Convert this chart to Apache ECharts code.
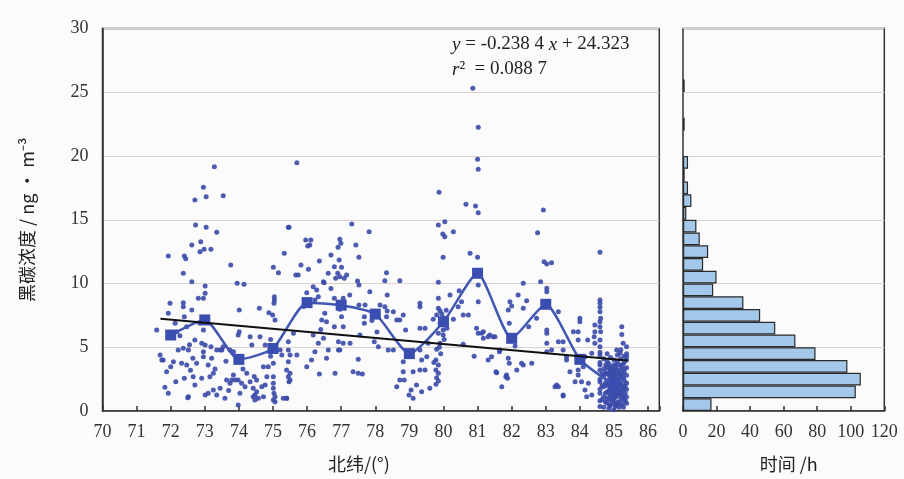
<!DOCTYPE html>
<html><head><meta charset="utf-8">
<script src="https://cdn.jsdelivr.net/npm/echarts@6/dist/echarts.min.js"></script>
<style>html,body{margin:0;padding:0;background:#fbfbfb}#c{width:904px;height:479px}</style>
</head><body><div id="c"></div><script>
// ---- data ----
var bcPts72to75 = [[73.28,19.16],[72.96,17.55],[73.04,16.81],[72.71,16.55],[73.54,16.89],[72.73,14.59],[73.04,14.41],[73.35,14.02],[72.62,13.02],[72.88,13.28],[72.86,12.49],[72.98,12.68],[73.18,12.68],[71.93,12.16],[72.40,12.16],[72.44,11.95],[72.37,10.8],[73.76,11.45],[75.01,11.27],[75.16,10.85],[75.33,12.37],[75.45,14.41],[72.62,10.14],[73.01,9.8],[73.95,10.02],[74.15,9.94],[73.01,9.23],[72.81,8.84],[72.96,8.84],[71.98,8.45],[72.37,8.49],[72.37,8.18],[72.62,7.92],[72.40,7.4],[74.01,7.92],[74.60,8.05],[74.88,7.71],[75.04,8.96],[75.04,8.7],[75.03,8.45],[74.99,7.53],[75.06,7.14],[71.59,6.35],[72.13,6.88],[72.18,6.22],[72.47,6.61],[72.71,5.57],[72.96,6.35],[72.91,5.31],[73.01,5.18],[73.18,5.04],[73.50,4.78],[73.54,5.04],[73.98,5.96],[74.01,6.22],[74.33,5.83],[74.38,5.18],[74.62,5.83],[74.77,5.18],[71.69,4.39],[71.74,4.0],[72.0,3.47],[72.08,3.87],[72.22,4.78],[72.37,4.92],[72.52,4.78],[72.32,3.74],[72.47,3.61],[72.65,4.13],[72.76,3.74],[71.88,3.08],[72.40,2.56],[72.66,2.69],[72.91,2.56],[73.15,2.69],[72.71,2.04],[71.83,1.86],[72.50,1.04],[73.01,1.25],[73.10,1.39],[73.25,1.65],[73.35,1.25],[73.45,1.78],[73.59,1.0],[73.64,2.43],[73.74,2.17],[73.79,2.43],[73.98,2.43],[74.08,2.17],[74.18,1.91],[74.03,1.39],[73.98,0.47],[74.33,2.3],[74.42,1.78],[74.47,1.25],[74.57,1.0],[74.52,2.43],[74.77,2.04],[74.82,2.69],[74.72,3.47],[74.86,3.47],[75.01,3.74],[75.01,2.69],[75.01,2.17],[75.01,1.78],[75.06,1.12],[75.06,0.73],[75.30,1.0],[75.40,1.0],[72.96,4.65],[72.96,4.26],[73.2,4.13],[71.93,7.66],[71.93,1.39],[71.78,4.0],[72.52,1.12],[73.35,4.78],[73.45,4.78],[73.74,4.78],[73.84,4.65],[73.25,2.96],[73.10,3.61],[73.84,2.82],[73.89,2.43],[74.23,2.96],[74.52,1.51],[74.67,1.91],[74.72,1.12],[74.42,1.12],[74.47,0.86],[75.01,0.86],[75.03,1.39],[72.55,5.2],[72.27,5.9],[72.85,6.9],[73.3,3.3],[73.62,3.9],[74.12,3.3],[74.45,2.7],[74.93,4.3],[74.93,5.6],[72.15,2.3],[72.58,3.2],[73.7,1.6]];
var bcPts75to79 = [[75.70,19.47],[75.47,14.41],[77.31,14.67],[77.82,14.06],[75.96,13.41],[76.11,13.41],[76.02,12.94],[76.96,13.47],[76.99,13.15],[76.91,12.84],[77.43,13.02],[76.70,12.24],[77.52,12.05],[76.36,11.76],[76.94,11.84],[75.82,11.45],[76.04,11.11],[76.80,11.32],[77.01,11.27],[75.67,10.67],[76.62,10.8],[76.90,10.8],[76.96,10.53],[77.16,10.67],[77.09,10.41],[76.84,10.41],[76.50,10.06],[76.18,9.75],[76.28,9.49],[75.99,9.28],[77.48,10.2],[77.52,9.88],[78.33,10.85],[78.72,10.22],[78.28,10.22],[77.84,9.36],[78.35,9.1],[76.80,8.84],[77.06,8.84],[76.52,7.66],[76.43,7.14],[76.57,7.0],[76.96,7.98],[77.01,7.4],[77.52,8.31],[77.70,8.31],[77.68,7.4],[77.68,6.88],[78.14,8.31],[78.28,8.18],[78.35,7.84],[78.53,7.79],[78.33,7.4],[78.82,7.53],[78.72,7.14],[78.63,7.14],[79.31,8.45],[79.31,8.18],[78.89,6.35],[76.80,6.61],[77.06,6.61],[77.55,5.96],[75.45,5.44],[76.18,5.96],[76.33,5.31],[76.48,5.7],[76.92,5.44],[77.06,5.31],[76.92,4.78],[76.96,4.78],[77.26,5.31],[77.97,5.44],[78.09,5.04],[78.38,4.78],[78.53,4.78],[75.45,4.78],[75.50,4.39],[75.70,4.39],[76.23,4.65],[76.62,4.78],[76.57,4.13],[77.50,4.05],[75.99,3.47],[76.13,4.0],[75.45,3.87],[75.45,2.69],[75.47,2.3],[75.40,1.0],[76.36,2.9],[76.82,2.96],[77.35,3.08],[77.50,2.96],[77.62,2.9],[78.82,3.87],[78.82,3.08],[78.72,2.43],[78.85,2.43],[78.63,1.91],[78.99,1.25],[79.11,1.0],[79.05,1.65],[79.21,2.04],[79.11,3.08],[79.31,3.22],[79.36,4.0],[76.33,8.96],[76.23,8.7],[76.48,10.14],[75.21,4.78],[75.26,4.39],[75.50,2.43],[75.50,2.96],[75.40,3.22],[75.6,6.09],[75.74,10.67],[76.08,13.02],[75.9,8.2],[76.7,9.6],[77.25,9.1],[77.9,7.1],[78.05,6.2],[76.4,6.4]];
var bcPts79to84 = [[80.86,25.31],[81.02,22.25],[81.0,19.74],[81.02,18.96],[79.87,17.15],[80.66,16.21],[80.94,16.08],[81.02,15.55],[82.93,15.76],[79.85,14.59],[80.04,14.85],[79.98,13.88],[80.04,13.67],[80.29,14.06],[82.76,13.98],[79.99,12.05],[80.78,12.37],[81.0,12.05],[82.95,11.71],[83.03,11.53],[83.17,11.63],[79.85,10.09],[82.85,10.14],[83.03,9.62],[83.03,9.36],[82.34,10.02],[80.46,9.44],[80.19,9.1],[81.02,9.88],[79.85,8.84],[79.85,8.05],[79.9,7.84],[80.53,8.57],[80.43,8.18],[81.02,8.57],[80.58,7.53],[80.73,7.53],[80.29,7.19],[81.95,8.57],[82.0,8.24],[81.9,7.92],[82.19,9.1],[82.44,8.65],[82.34,8.05],[82.73,7.27],[81.93,6.88],[79.31,6.49],[79.46,6.49],[79.70,7.19],[79.80,7.53],[79.90,6.88],[79.99,6.35],[79.85,6.09],[79.99,5.96],[79.90,5.31],[79.80,4.84],[79.78,4.0],[79.85,3.61],[79.78,3.22],[79.85,2.96],[79.8,2.6],[79.85,2.35],[79.78,2.1],[79.60,1.78],[79.31,4.78],[79.51,4.26],[79.46,3.22],[79.36,1.51],[79.55,5.31],[80.97,6.49],[81.02,6.09],[81.17,6.22],[81.17,5.7],[81.36,5.96],[81.46,5.83],[81.64,4.65],[81.31,4.0],[81.41,4.26],[81.56,3.0],[81.71,1.91],[81.85,2.82],[81.88,2.56],[81.9,4.13],[81.93,3.74],[82.15,3.22],[82.34,3.61],[82.59,3.74],[83.03,6.09],[83.03,5.31],[83.17,4.78],[83.32,2.04],[80.58,5.23],[83.27,1.91],[83.51,1.18],[81.54,3.08],[82.29,3.74],[81.83,2.69],[81.66,4.78],[81.12,6.09],[81.31,5.83],[81.51,5.83],[83.37,5.44],[83.51,4.78],[83.61,4.0],[80.0,7.3],[80.05,6.8],[79.95,7.6],[80.1,6.5],[80.02,5.6],[83.03,6.35],[83.03,4.65],[79.92,4.5],[79.88,5.0],[80.08,7.9],[79.72,3.8],[80.9,4.3],[82.5,6.6],[82.1,5.1]];
var bcPts84to86 = [[84.59,12.45],[83.37,7.79],[83.51,5.44],[83.61,4.26],[83.71,3.08],[83.37,1.91],[83.51,1.25],[84.0,7.27],[84.0,7.0],[83.81,6.22],[83.95,6.22],[83.95,5.57],[84.23,5.57],[84.42,5.83],[84.44,6.75],[84.44,6.22],[84.44,5.31],[84.35,4.52],[84.15,4.26],[84.10,3.47],[83.95,3.22],[83.95,2.82],[84.05,2.3],[84.25,2.17],[84.15,1.65],[84.35,1.25],[83.86,2.3],[85.23,6.61],[85.23,6.0],[85.27,5.31],[85.37,5.04],[85.08,4.78],[85.18,4.52],[85.37,4.26],[84.2,1.12],
[84.59,0.35],[84.59,0.8],[84.59,1.4],[84.59,1.7],[84.59,2.3],[84.59,2.5],[84.59,3.2],[84.59,3.6],[84.59,3.8],[84.59,4.4],[84.59,4.6],[84.59,5.04],[84.59,5.57],[84.61,6.22],[84.59,6.61],[84.59,7.0],[84.61,7.27],[84.59,7.79],[84.59,8.13],[84.59,8.45],[84.59,8.71],
[84.7,0.3],[84.7,1.1],[84.7,1.9],[84.7,2.7],[84.7,3.3],[84.7,4.1],
[84.8,0.6],[84.8,1.0],[84.8,1.5],[84.8,2.0],[84.8,2.4],[84.8,2.9],[84.8,3.4],[84.8,3.9],[84.8,4.5],
[84.85,0.2],[84.85,0.9],[84.85,1.6],[84.85,2.2],[84.85,3.0],[84.85,3.7],
[84.9,0.5],[84.9,1.2],[84.9,1.8],[84.9,2.5],[84.9,3.1],[84.9,3.5],[84.9,4.2],
[84.95,0.8],[84.95,1.4],[84.95,2.1],[84.95,2.8],[84.95,3.3],
[85.0,0.1],[85.0,0.6],[85.0,1.0],[85.0,1.3],[85.0,1.9],[85.0,2.3],[85.0,2.6],[85.0,3.0],[85.0,3.6],[85.0,4.0],
[85.05,0.4],[85.05,1.1],[85.05,1.7],[85.05,2.2],[85.05,2.9],[85.05,3.4],
[85.1,0.7],[85.1,1.5],[85.1,2.0],[85.1,2.7],[85.1,3.2],[85.1,3.9],[85.1,4.4],
[85.15,0.3],[85.15,1.2],[85.15,1.8],[85.15,2.4],[85.15,3.0],
[85.2,0.9],[85.2,1.6],[85.2,2.1],[85.2,2.6],[85.2,3.3],[85.2,4.1],[85.2,4.8],
[85.25,0.5],[85.25,1.3],[85.25,2.0],[85.25,2.9],[85.25,3.6],
[85.3,0.9],[85.3,1.8],[85.3,2.4],[85.3,3.1],[85.3,3.8],[85.3,4.3],
[85.37,0.6],[85.37,1.1],[85.37,1.7],[85.37,2.2],[85.37,2.8],[85.37,3.4],[85.37,4.0],[85.37,4.5]];
var bcPtsCluster85 = [[84.75,0.7],[84.75,1.4],[84.75,2.2],[84.75,3.0],[84.76,3.6],[84.88,0.4],[84.88,1.3],[84.88,2.0],[84.88,2.7],[84.88,3.3],[84.98,0.9],[84.98,1.6],[84.98,2.4],[84.98,3.2],[85.08,0.5],[85.08,1.3],[85.08,1.9],[85.08,2.5],[85.08,3.6],[85.18,0.6],[85.18,1.4],[85.18,2.2],[85.18,2.9],[85.18,3.6],[85.28,0.3],[85.28,1.1],[85.28,1.6],[85.28,2.6],[85.28,3.3],[85.33,2.0],[85.33,0.8],[85.33,1.4],[84.65,0.9],[84.65,2.0],[84.65,2.9]];

var meanLat = [72,73,74,75,76,77,78,79,80,81,82,83,84,85];
var meanBC  = [5.96,7.14,4.05,4.9,8.5,8.3,7.6,4.5,7.0,10.8,5.7,8.37,4.05,2.04];

var regLine = [[71.7,7.23],[85.4,3.96]];   // y = -0.2384x + 24.323

var histBins  = ['0','1','2','3','4','5','6','7','8','9','10','11','12','13','14','15','16','17','18','19','20','21','22','23','24','25','26','27','28','29'];
var histHours = [17,103,106,98,79,67,55,46,36,18,20,12,15,10,8,2,5,3,1,3,null,null,1,null,null,1,null,null,null,null];

var xTicksLeft  = {min:70, max:86.33, interval:1};
var xTicksRight = {min:0, max:120, interval:20};
var yTicks      = {min:0, max:30, interval:5};

// ---- chart ----
var FONT = '"Liberation Serif", "Noto Sans CJK SC", serif';
var CJK = '"Noto Sans CJK SC", "Liberation Serif", serif';
var axisCol = '#333';
var gridCol = '#dcd0d0';
var blue = '#3a4aa9';

var scatterAll = bcPts72to75.concat(bcPts75to79, bcPts79to84, bcPts84to86, bcPtsCluster85);
var meanData = meanLat.map(function(v,i){return [v, meanBC[i]];});

var chart = echarts.init(document.getElementById('c'), null, {renderer:'canvas'});
chart.setOption({
  backgroundColor:'#fbfbfb',
  animation:false,
  textStyle:{fontFamily:FONT},
  grid:[
    {left:102.5, right:244.7, top:28.5, bottom:68, show:true, borderColor:axisCol, borderWidth:1.5, backgroundColor:'transparent'},
    {left:683, right:19.7, top:28.5, bottom:68, show:true, borderColor:axisCol, borderWidth:1.5, backgroundColor:'transparent'}
  ],
  xAxis:[
    {type:'value', gridIndex:0, min:xTicksLeft.min, max:xTicksLeft.max, interval:xTicksLeft.interval,
     name:'北纬/(°)', nameLocation:'middle', nameGap:44,
     nameTextStyle:{fontFamily:CJK, fontSize:18, color:'#222', padding:[0,44,0,0]},
     axisLine:{show:true, lineStyle:{color:axisCol, width:1.5}},
     axisTick:{show:true, inside:true, length:5, lineStyle:{color:axisCol, width:1.5}},
     axisLabel:{fontFamily:FONT, fontSize:18, color:'#333', margin:12,
       formatter:function(v){return Math.abs(v-Math.round(v))<1e-6 ? String(Math.round(v)) : '';}},
     splitLine:{show:false}},
    {type:'value', gridIndex:1, min:xTicksRight.min, max:xTicksRight.max, interval:xTicksRight.interval,
     name:'时间 /h', nameLocation:'middle', nameGap:44,
     nameTextStyle:{fontFamily:CJK, fontSize:18, color:'#222', padding:[0,0,0,10]},
     axisLine:{show:true, lineStyle:{color:axisCol, width:1.5}},
     axisTick:{show:true, inside:true, length:5, lineStyle:{color:axisCol, width:1.5}},
     axisLabel:{fontFamily:FONT, fontSize:18, color:'#333', margin:12},
     splitLine:{show:false}}
  ],
  yAxis:[
    {type:'value', gridIndex:0, min:yTicks.min, max:yTicks.max, interval:yTicks.interval,
     name:'黑碳浓度 / ng · m⁻³', nameLocation:'middle', nameGap:66, nameRotate:90,
     nameTextStyle:{fontFamily:CJK, fontSize:18, color:'#222'},
     axisLine:{show:true, lineStyle:{color:axisCol, width:1.5}},
     axisTick:{show:false},
     axisLabel:{fontFamily:FONT, fontSize:18, color:'#333', margin:14},
     splitLine:{show:true, lineStyle:{color:gridCol, width:1.2}}},
    {type:'category', gridIndex:1, data:histBins, boundaryGap:true, show:false},
    {type:'value', gridIndex:1, min:yTicks.min, max:yTicks.max, interval:yTicks.interval,
     axisLine:{show:false}, axisTick:{show:false}, axisLabel:{show:false},
     splitLine:{show:true, lineStyle:{color:gridCol, width:1.2}}}
  ],
  series:[
    {type:'scatter', xAxisIndex:0, yAxisIndex:0, data:scatterAll, symbol:'circle', symbolSize:5,
     itemStyle:{color:blue, opacity:0.9}, z:2},
    {type:'line', xAxisIndex:0, yAxisIndex:0, data:meanData, smooth:0.2, symbol:'rect', symbolSize:11,
     lineStyle:{color:'#4257b2', width:2.5}, itemStyle:{color:'#3a4db0'}, z:3},
    {type:'line', xAxisIndex:0, yAxisIndex:0, data:regLine, symbol:'none',
     lineStyle:{color:'#111', width:2}, z:4},
    {type:'bar', xAxisIndex:1, yAxisIndex:1, data:histHours, barCategoryGap:'0%',
     itemStyle:{color:'#a3c8ea', borderColor:'#2a2a2a', borderWidth:1.2}, z:2}
  ],
  graphic:[
    {type:'text', left:452, top:35, style:{text:'{i|y} = -0.238 4 {i|x} + 24.323', font:'19px '+FONT, fill:'#222',
      rich:{i:{fontStyle:'italic', fontFamily:FONT, fontSize:19, fill:'#222'}}}},
    {type:'text', left:452, top:60, style:{text:'{i|r}²  = 0.088 7', font:'19px '+FONT, fill:'#222',
      rich:{i:{fontStyle:'italic', fontFamily:FONT, fontSize:19, fill:'#222'}}}}
  ]
});
</script></body></html>
